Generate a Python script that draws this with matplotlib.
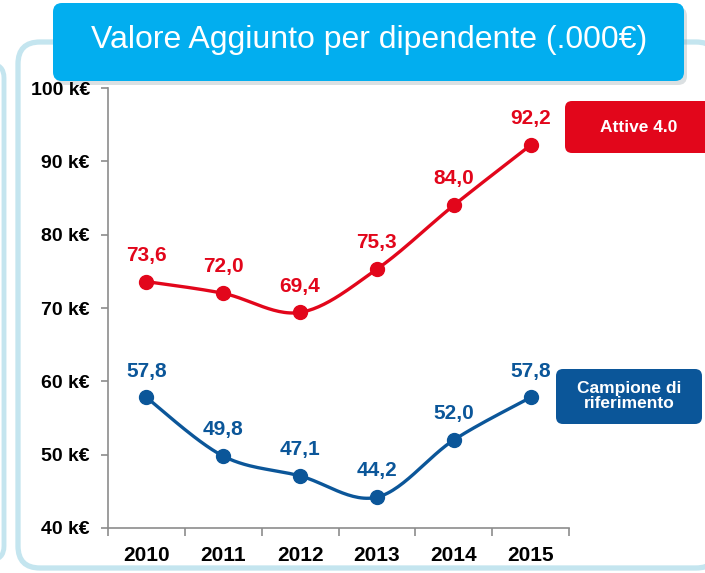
import numpy as np
import matplotlib.pyplot as plt
from matplotlib.patches import FancyBboxPatch

# dati
anni = ['2010', '2011', '2012', '2013', '2014', '2015']
attive_40 = [73.6, 72.0, 69.4, 75.3, 84.0, 92.2]
campione = [57.8, 49.8, 47.1, 44.2, 52.0, 57.8]
etichette_y = ['40 k€', '50 k€', '60 k€', '70 k€', '80 k€', '90 k€', '100 k€']
valori_y = [40, 50, 60, 70, 80, 90, 100]

ROSSO = '#E2061B'
BLU = '#0B5699'
AZZURRO = '#02AEEF'
CORNICE = '#C4E5EF'

plt.rcParams['font.family'] = ['Liberation Sans Narrow', 'Liberation Sans', 'DejaVu Sans']


def smooth(x, y, px_x, px_y, n=30):
    """
    Curva tipo Excel (Catmull-Rom / Bezier) calcolata in pixel.
    """
    X = np.asarray(x, float) * px_x
    Y = np.asarray(y, float) * px_y
    pts = np.column_stack([X, Y])
    out = []
    for i in range(len(pts) - 1):
        p0 = pts[max(i - 1, 0)]
        p1 = pts[i]
        p2 = pts[i + 1]
        p3 = pts[min(i + 2, len(pts) - 1)]
        c1 = p1 + (p2 - p0) / 6.0
        c2 = p2 - (p3 - p1) / 6.0
        t = np.linspace(0, 1, n)[:, None]
        seg = ((1 - t) ** 3) * p1 + 3 * ((1 - t) ** 2) * t * c1 + 3 * (1 - t) * t ** 2 * c2 + t ** 3 * p2
        out.append(seg if i == 0 else seg[1:])
    out = np.vstack(out)
    return out[:, 0] / px_x, out[:, 1] / px_y


W, H = 705, 573
fig = plt.figure(figsize=(W / 100, H / 100), dpi=100)

# sfondo: cornici e titolo in coordinate pixel
bg = fig.add_axes([0, 0, 1, 1])
bg.set_xlim(0, W)
bg.set_ylim(H, 0)
bg.axis('off')

bg.add_patch(FancyBboxPatch((-60, 64), 64, 496, boxstyle='round,pad=0,rounding_size=14',
                            fc='none', ec=CORNICE, lw=3.5))
bg.add_patch(FancyBboxPatch((18, 42), 700, 526, boxstyle='round,pad=0,rounding_size=22',
                            fc='white', ec=CORNICE, lw=3.8))
# ombra del titolo
bg.add_patch(FancyBboxPatch((56, 7), 631, 78, boxstyle='round,pad=0,rounding_size=9',
                            fc='#9aa7ad', ec='none', alpha=0.35))
bg.add_patch(FancyBboxPatch((53, 3), 631, 78, boxstyle='round,pad=0,rounding_size=9',
                            fc=AZZURRO, ec='none'))
bg.text(369, 40, 'Valore Aggiunto per dipendente (.000€)', color='white',
        fontsize=23, ha='center', va='center')

# box legenda
bg.add_patch(FancyBboxPatch((565, 101), 160, 52, boxstyle='round,pad=0,rounding_size=7',
                            fc=ROSSO, ec='none'))
bg.text(639, 127, 'Attive 4.0', color='white', fontsize=12.5, fontweight='bold',
        ha='center', va='center')
bg.add_patch(FancyBboxPatch((556, 369), 146, 55, boxstyle='round,pad=0,rounding_size=7',
                            fc=BLU, ec='none'))
bg.text(629, 396, 'Campione di\nriferimento', color='white', fontsize=12.5, fontweight='bold',
        ha='center', va='center', linespacing=1.0)

# grafico
ax = fig.add_axes([108 / W, (H - 528) / H, (569 - 108) / W, (528 - 88) / H])
ax.patch.set_alpha(0)
x = np.arange(len(anni))
ax.set_xlim(-0.5, len(anni) - 0.5)
ax.set_ylim(40, 100)

px_x = (569 - 108) / len(anni)
px_y = (528 - 88) / 60.0

for serie, col in [(attive_40, ROSSO), (campione, BLU)]:
    sx, sy = smooth(x, serie, px_x, px_y)
    ax.plot(sx, sy, color=col, lw=2.4, solid_capstyle='round', zorder=3)
    ax.plot(x, serie, 'o', color=col, ms=10, zorder=4)
    for xi, v in zip(x, serie):
        ax.annotate(f'{v:.1f}'.replace('.', ','), (xi, v), xytext=(0, 19),
                    textcoords='offset points', ha='center', va='center',
                    color=col, fontsize=15, fontweight='bold')

for s in ['top', 'right']:
    ax.spines[s].set_visible(False)
for s in ['left', 'bottom']:
    ax.spines[s].set_color('#8c8c8c')
    ax.spines[s].set_linewidth(1.2)

ax.set_yticks(valori_y)
ax.set_yticklabels(etichette_y, fontsize=14, fontweight='bold')
ax.tick_params(axis='y', direction='out', length=5, color='#8c8c8c', width=1.2, pad=8)

ax.set_xticks(x)
ax.set_xticklabels(anni, fontsize=15, fontweight='bold')
ax.tick_params(axis='x', length=0, pad=13)
ax.set_xticks(np.arange(-0.5, len(anni)), minor=True)
ax.tick_params(axis='x', which='minor', direction='out', length=6, color='#8c8c8c', width=1.2)

fig.savefig('out.png', dpi=100)
